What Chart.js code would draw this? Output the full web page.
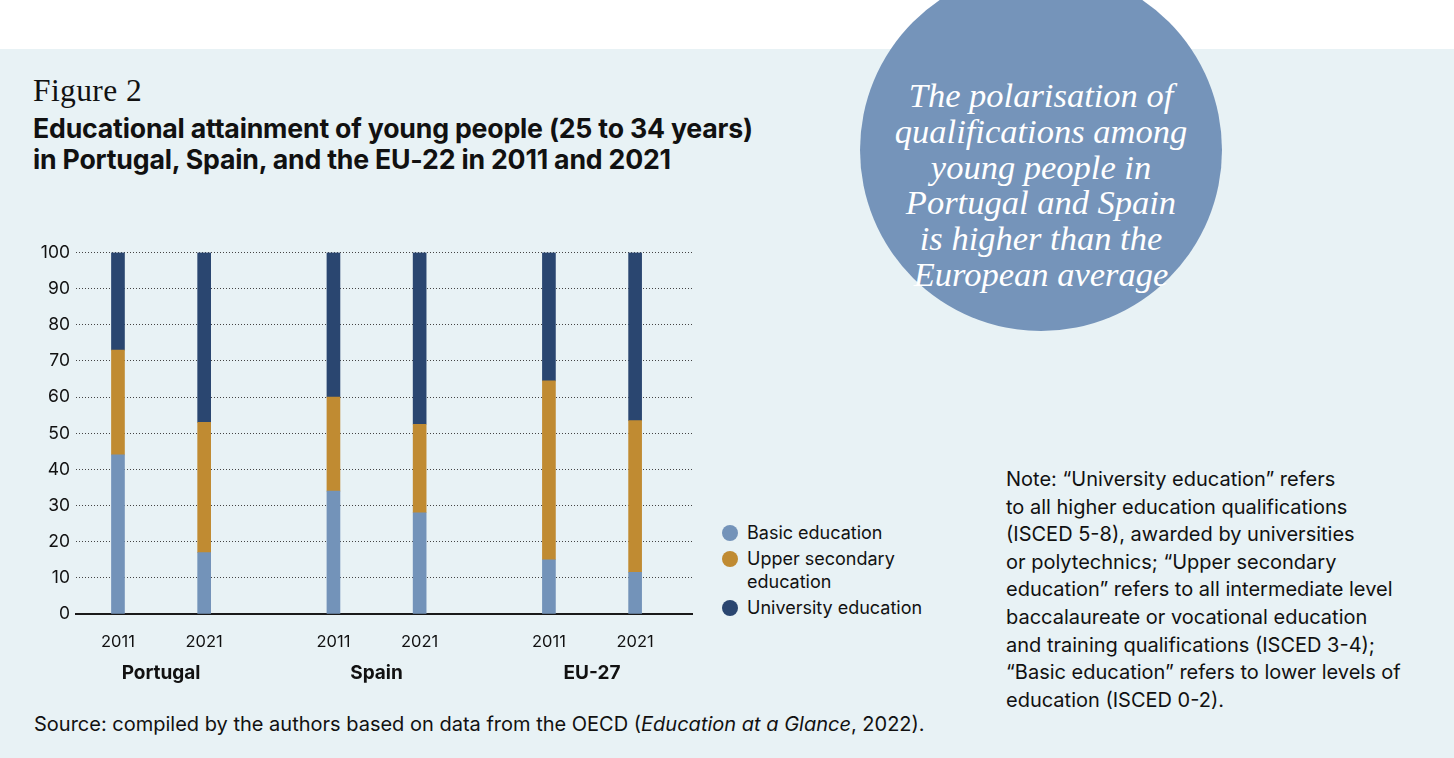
<!DOCTYPE html>
<html lang="en">
<head>
<meta charset="UTF-8" />
<title>Figure 2</title>
<script src="https://cdn.jsdelivr.net/npm/chart.js@4.4.1/dist/chart.umd.min.js"></script>
<style>
    html, body { margin: 0; padding: 0; }
    body { width: 1454px; height: 758px; position: relative; overflow: hidden; background: #fff; font-family: Inter, sans-serif; color: #111; }
    .panel { position: absolute; left: 0; top: 49px; width: 1454px; height: 709px; background: #e8f2f5; }
    .fig-no { position: absolute; left: 33px; top: 73px; font-family: "Liberation Serif", serif; font-size: 31.5px; letter-spacing: 0.4px; }
    .fig-title { position: absolute; left: 33px; top: 113px; font-size: 26.7px; font-weight: 700; line-height: 31px; letter-spacing: -0.2px; }
    .bubble { position: absolute; left: 860px; top: -31px; width: 362px; height: 362px; border-radius: 50%; background: #7594ba; }
    .bubble p { position: absolute; left: 0; right: 0; top: 109px; margin: 0; text-align: center; color: #fff;
        font-family: "Liberation Serif", serif; font-style: italic; font-size: 34.5px; line-height: 35.8px; }
    .chart-box { position: absolute; left: 20px; top: 236px; width: 680px; height: 457px; }
    .legend { position: absolute; left: 722px; top: 521px; font-size: 18px; line-height: 23px; }
    .legend div { position: relative; padding-left: 25px; margin-bottom: 3px; }
    .legend span { position: absolute; left: 0; top: 4px; width: 16px; height: 16px; border-radius: 50%; }
    .note { position: absolute; left: 1006px; top: 466px; font-size: 20px; line-height: 27.6px; }
    .source { position: absolute; left: 34px; top: 712px; font-size: 20px; }
</style>
</head>
<body>
    <div class="panel"></div>
    <div class="fig-no">Figure 2</div>
    <div class="fig-title">Educational attainment of young people (25 to 34 years)<br>in Portugal, Spain, and the EU-22 in 2011 and 2021</div>

    <div class="bubble">
        <p>The polarisation of<br>qualifications among<br>young people in<br>Portugal and Spain<br>is higher than the<br>European average</p>
    </div>

    <!-- chart -->
    <div class="chart-box"><canvas id="attainmentChart"></canvas></div>

    <div class="legend">
        <div><span style="background:#7393b9"></span>Basic education</div>
        <div><span style="background:#c08b32"></span>Upper secondary<br>education</div>
        <div><span style="background:#2a4670"></span>University education</div>
    </div>

    <div class="note">Note: “University education” refers<br>to all higher education qualifications<br>(ISCED 5-8), awarded by universities<br>or polytechnics; “Upper secondary<br>education” refers to all intermediate level<br>baccalaureate or vocational education<br>and training qualifications (ISCED 3-4);<br>“Basic education” refers to lower levels of<br>education (ISCED 0-2).</div>

    <div class="source">Source: compiled by the authors based on data from the OECD (<i>Education at a Glance</i>, 2022).</div>

<script>
    // positions on the x axis (gap between countries)
    const barPos = [0, 2, 5, 7, 10, 12];
    const years = ['2011', '2021', '2011', '2021', '2011', '2021'];
    const countryPos = [1, 6, 11];
    const countries = ['Portugal', 'Spain', 'EU-27'];

    // share of 25-34 year olds, %
    const basic = [44, 17, 34, 28, 15, 11.5];
    const upperSecondary = [29, 36, 26, 24.5, 49.5, 42];
    const university = [27, 47, 40, 47.5, 35.5, 46.5];

    const yTicks = [0, 10, 20, 30, 40, 50, 60, 70, 80, 90, 100];

    const toPoints = (arr) => arr.map((v, i) => ({ x: barPos[i], y: v }));

    const ctx = document.getElementById('attainmentChart').getContext('2d');

    const chart = new Chart(ctx, {
        type: 'bar',
        data: {
            datasets: [
                { label: 'Basic education', data: toPoints(basic), backgroundColor: '#7393b9' },
                { label: 'Upper secondary education', data: toPoints(upperSecondary), backgroundColor: '#c08b32' },
                { label: 'University education', data: toPoints(university), backgroundColor: '#2a4670' }
            ]
        },
        options: {
            responsive: true,
            maintainAspectRatio: false,
            animation: false,
            layout: { padding: { top: 3, right: 8, left: 0, bottom: 0 } },
            datasets: { bar: { barThickness: 13 } },
            plugins: { legend: false, tooltip: { enabled: false } },
            scales: {
                x: {
                    type: 'linear',
                    stacked: true,
                    offset: false,
                    min: -0.974,
                    max: 13.32,
                    weight: 0,
                    grid: { display: false },
                    border: { display: true, color: '#1a1a1a', width: 2 },
                    afterBuildTicks: (axis) => { axis.ticks = barPos.map(v => ({ value: v })); },
                    afterFit: (axis) => { axis.height = 40; },
                    ticks: {
                        autoSkip: false,
                        maxRotation: 0,
                        padding: 10,
                        color: '#111',
                        font: { family: 'Inter', size: 16.5 },
                        callback: (v) => years[barPos.indexOf(v)]
                    }
                },
                xGroup: {
                    type: 'linear',
                    position: 'bottom',
                    offset: false,
                    min: -0.974,
                    max: 13.32,
                    weight: 1,
                    grid: { display: false },
                    border: { display: false },
                    afterBuildTicks: (axis) => { axis.ticks = countryPos.map(v => ({ value: v })); },
                    afterFit: (axis) => { axis.height = 39; },
                    ticks: {
                        autoSkip: false,
                        maxRotation: 0,
                        padding: 0,
                        color: '#111',
                        font: { family: 'Inter', size: 19, weight: 'bold' },
                        callback: (v) => countries[countryPos.indexOf(v)]
                    }
                },
                y: {
                    stacked: true,
                    min: 0,
                    max: 100,
                    afterBuildTicks: (axis) => { axis.ticks = yTicks.map(v => ({ value: v })); },
                    afterFit: (axis) => { axis.width = 56; },
                    grid: { color: '#444', lineWidth: 1, drawTicks: false },
                    border: { display: false, dash: [1, 2] },
                    ticks: {
                        padding: 6,
                        color: '#111',
                        font: { family: 'Inter', size: 17.5 }
                    }
                }
            }
        }
    });
</script>
</body>
</html>
